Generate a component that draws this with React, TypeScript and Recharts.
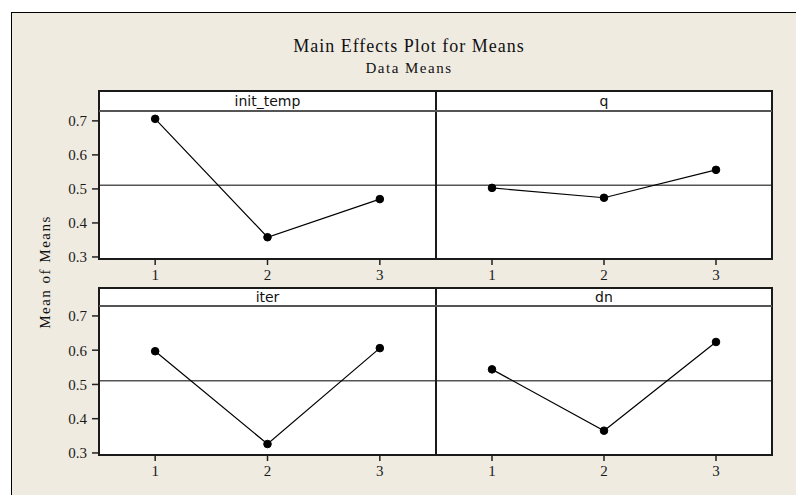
import React from 'react';
import { LineChart, Line, XAxis, YAxis, ReferenceLine } from 'recharts';

const levels = [1, 2, 3];
const initTemp = [0.706, 0.358, 0.47];
const qMeans = [0.503, 0.474, 0.556];
const iterMeans = [0.597, 0.326, 0.606];
const dnMeans = [0.544, 0.365, 0.624];
const grandMean = 0.511;
const yTicks = [0.3, 0.4, 0.5, 0.6, 0.7];
const xTicks = [1, 2, 3];

const SERIF = '"Liberation Serif", "Times New Roman", serif';
const SANS = '"DejaVu Sans", sans-serif';
const BG = '#efebe1';

const panelLeft = 99;
const panelMid = 436;
const panelRight = 772;
const yAxisW = 60;

interface PanelProps {
  name: string;
  values: number[];
  left: number;
  width: number;
  top: number;
  height: number;
  showY: boolean;
}

function Panel({ values, left, width, top, height, showY }: PanelProps) {
  const data = levels.map((lv, i) => ({ level: lv, mean: values[i] }));
  const chartLeft = showY ? left - yAxisW : left;
  const chartWidth = showY ? width + yAxisW : width;
  const tickStyle = { fontFamily: SERIF, fontSize: 15, fill: '#1a1a1a' };
  return (
    <div style={{ position: 'absolute', left: chartLeft, top }}>
      <LineChart
        width={chartWidth}
        height={height + 30}
        data={data}
        margin={{ top: 0, right: 0, bottom: 0, left: 0 }}
      >
        <XAxis
          type="number"
          dataKey="level"
          domain={[0.5, 3.5]}
          ticks={xTicks}
          axisLine={false}
          tickSize={6}
          tickMargin={4}
          tickLine={{ stroke: '#222', strokeWidth: 1.5 }}
          tick={tickStyle}
          height={30}
          allowDataOverflow
        />
        <YAxis
          type="number"
          domain={[0.294, 0.729]}
          ticks={yTicks}
          hide={!showY}
          width={yAxisW}
          axisLine={false}
          tickSize={7}
          tickMargin={5}
          tickLine={{ stroke: '#222', strokeWidth: 1.5 }}
          tick={tickStyle}
          tickFormatter={(v: number) => v.toFixed(1)}
          allowDataOverflow
        />
        <ReferenceLine y={grandMean} stroke="#555" strokeWidth={1.5} />
        <Line
          type="linear"
          dataKey="mean"
          stroke="#000"
          strokeWidth={1.2}
          dot={{ r: 3.8, fill: '#000', stroke: '#000', strokeWidth: 1 }}
          isAnimationActive={false}
        />
      </LineChart>
    </div>
  );
}

interface RowProps {
  headerTop: number;
  plotTop: number;
  plotBottom: number;
  leftName: string;
  rightName: string;
  leftValues: number[];
  rightValues: number[];
}

function Row({ headerTop, plotTop, plotBottom, leftName, rightName, leftValues, rightValues }: RowProps) {
  const rowH = plotBottom - headerTop;
  const plotH = plotBottom - plotTop;
  const headerText = (name: string, x0: number, x1: number) => (
    <div
      style={{
        position: 'absolute',
        left: x0,
        width: x1 - x0,
        top: headerTop,
        height: plotTop - headerTop,
        lineHeight: `${plotTop - headerTop}px`,
        textAlign: 'center',
        fontFamily: SANS,
        fontSize: 14,
        color: '#111',
      }}
    >
      {name}
    </div>
  );
  return (
    <>
      <div
        style={{
          position: 'absolute',
          left: panelLeft,
          top: headerTop,
          width: panelRight - panelLeft,
          height: rowH,
          background: '#fff',
        }}
      />
      <Panel name={leftName} values={leftValues} left={panelLeft} width={panelMid - panelLeft} top={plotTop} height={plotH} showY />
      <Panel name={rightName} values={rightValues} left={panelMid} width={panelRight - panelMid} top={plotTop} height={plotH} showY={false} />
      <div
        style={{
          position: 'absolute',
          left: panelLeft - 1,
          top: headerTop - 1,
          width: panelRight - panelLeft + 2,
          height: rowH + 2,
          border: '2px solid #1a1a1a',
          boxSizing: 'border-box',
          pointerEvents: 'none',
        }}
      />
      <div style={{ position: 'absolute', left: panelMid - 1, top: headerTop, width: 2, height: rowH, background: '#1a1a1a' }} />
      <div style={{ position: 'absolute', left: panelLeft, top: plotTop - 1, width: panelRight - panelLeft, height: 2, background: '#555' }} />
      {headerText(leftName, panelLeft, panelMid)}
      {headerText(rightName, panelMid, panelRight)}
    </>
  );
}

export default function App() {
  return (
    <div
      style={{
        position: 'absolute',
        left: 0,
        top: 0,
        width: 796,
        height: 495,
        background: '#fff',
        overflow: 'hidden',
      }}
    >
      <div
        style={{
          position: 'absolute',
          left: 11,
          top: 12,
          width: 800,
          height: 500,
          background: BG,
          borderLeft: '1px solid #000',
          borderTop: '1px solid #000',
        }}
      />
      <div
        style={{
          position: 'absolute',
          left: 0,
          width: 818,
          top: 36,
          textAlign: 'center',
          fontFamily: SERIF,
          fontSize: 18,
          letterSpacing: 1,
          color: '#111',
        }}
      >
        Main Effects Plot for Means
      </div>
      <div
        style={{
          position: 'absolute',
          left: 0,
          width: 818,
          top: 60,
          textAlign: 'center',
          fontFamily: SERIF,
          fontSize: 15,
          letterSpacing: 1.5,
          color: '#111',
        }}
      >
        Data Means
      </div>
      <div
        style={{
          position: 'absolute',
          left: 45,
          top: 272,
          transform: 'translate(-50%, -50%) rotate(-90deg)',
          whiteSpace: 'nowrap',
          fontFamily: SERIF,
          fontSize: 15,
          letterSpacing: 1.5,
          color: '#111',
        }}
      >
        Mean of Means
      </div>
      <Row
        headerTop={91}
        plotTop={111}
        plotBottom={259}
        leftName="init_temp"
        rightName="q"
        leftValues={initTemp}
        rightValues={qMeans}
      />
      <Row
        headerTop={288}
        plotTop={306}
        plotBottom={455}
        leftName="iter"
        rightName="dn"
        leftValues={iterMeans}
        rightValues={dnMeans}
      />
    </div>
  );
}
